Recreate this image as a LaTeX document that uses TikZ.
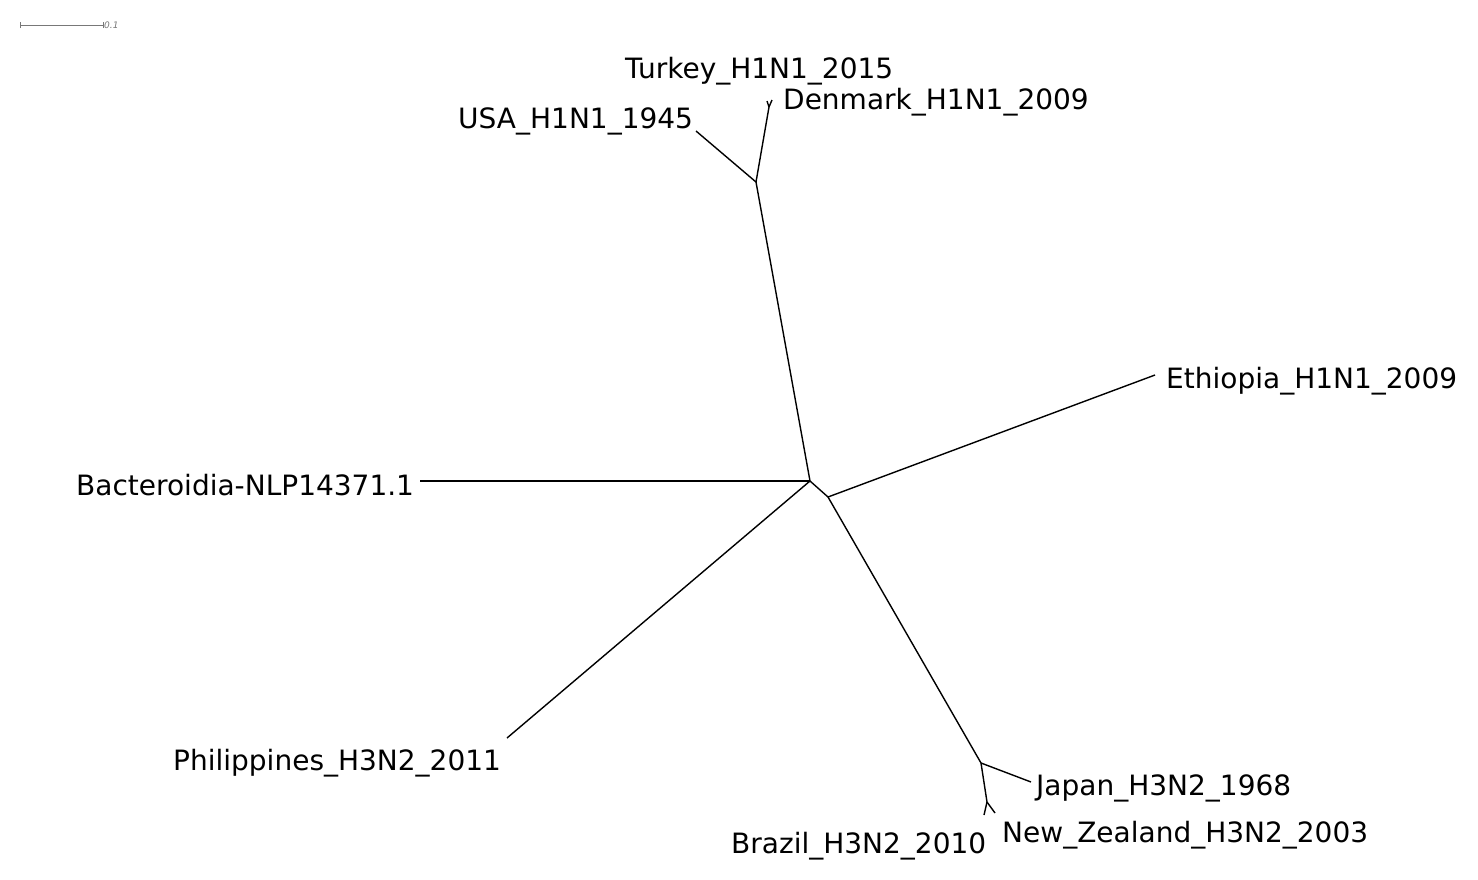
\documentclass[tikz,border=0pt]{standalone}
\usepackage{fontspec}
\setmainfont{DejaVu Sans}
\usepackage{tikz}
\definecolor{bargray}{RGB}{120,120,120}

\begin{document}
\begin{tikzpicture}[x=1pt, y=-1pt,
    branch/.style={line width=1.4pt, black},
    leaf/.style={anchor=base west, inner sep=0pt, font=\fontsize{28}{32}\selectfont}]
    \useasboundingbox (0,0) rectangle (1478,879);
    % scale bar
    \coordinate (sb1) at (20,25);
    \coordinate (sb2) at (103,25);
    \draw[bargray, line width=0.8pt] (sb1) -- (sb2);
    \draw[bargray, line width=0.8pt] ([yshift=-3]sb1) -- ([yshift=3]sb1);
    \draw[bargray, line width=0.8pt] ([yshift=-3]sb2) -- ([yshift=3]sb2);
    \node[anchor=west, inner sep=1pt, text=bargray, font=\fontsize{9}{10}\selectfont\itshape] (sblab) at (sb2) {0.1};
    % internal nodes
    \coordinate (n1) at (810,481);
    \coordinate (n2) at (756,182);
    \coordinate (n3) at (769,107);
    \coordinate (n4) at (828,497);
    \coordinate (n5) at (981,763);
    \coordinate (n6) at (987,802);
    % leaf tips
    \coordinate (bacT) at (420,481);
    \coordinate (phiT) at (507,738);
    \coordinate (usaT) at (696,131);
    \coordinate (turT) at (767,101);
    \coordinate (denT) at (772,100);
    \coordinate (ethT) at (1155,375);
    \coordinate (japT) at (1031,782);
    \coordinate (braT) at (984,815);
    \coordinate (nzT) at (995,813);
    % labels
    \node[leaf] (tur) at (625,78) {Turkey\_H1N1\_2015};
    \node[leaf] (den) at (783,109) {Denmark\_H1N1\_2009};
    \node[leaf] (usa) at (458,128) {USA\_H1N1\_1945};
    \node[leaf] (eth) at (1166,388) {Ethiopia\_H1N1\_2009};
    \node[leaf] (bac) at (76,495) {Bacteroidia-NLP14371.1};
    \node[leaf] (phi) at (173,770) {Philippines\_H3N2\_2011};
    \node[leaf] (jap) at (1036,795) {Japan\_H3N2\_1968};
    \node[leaf] (nz) at (1002,842) {New\_Zealand\_H3N2\_2003};
    \node[leaf] (bra) at (731,853) {Brazil\_H3N2\_2010};
    % branches
    \draw[branch] (n1) -- (bacT);
    \draw[branch] (n1) -- (phiT);
    \draw[branch] (n1) -- (n2);
    \draw[branch] (n1) -- (n4);
    \draw[branch] (n2) -- (usaT);
    \draw[branch] (n2) -- (n3);
    \draw[branch] (n3) -- (turT);
    \draw[branch] (n3) -- (denT);
    \draw[branch] (n4) -- (ethT);
    \draw[branch] (n4) -- (n5);
    \draw[branch] (n5) -- (japT);
    \draw[branch] (n5) -- (n6);
    \draw[branch] (n6) -- (braT);
    \draw[branch] (n6) -- (nzT);
\end{tikzpicture}
\end{document}
